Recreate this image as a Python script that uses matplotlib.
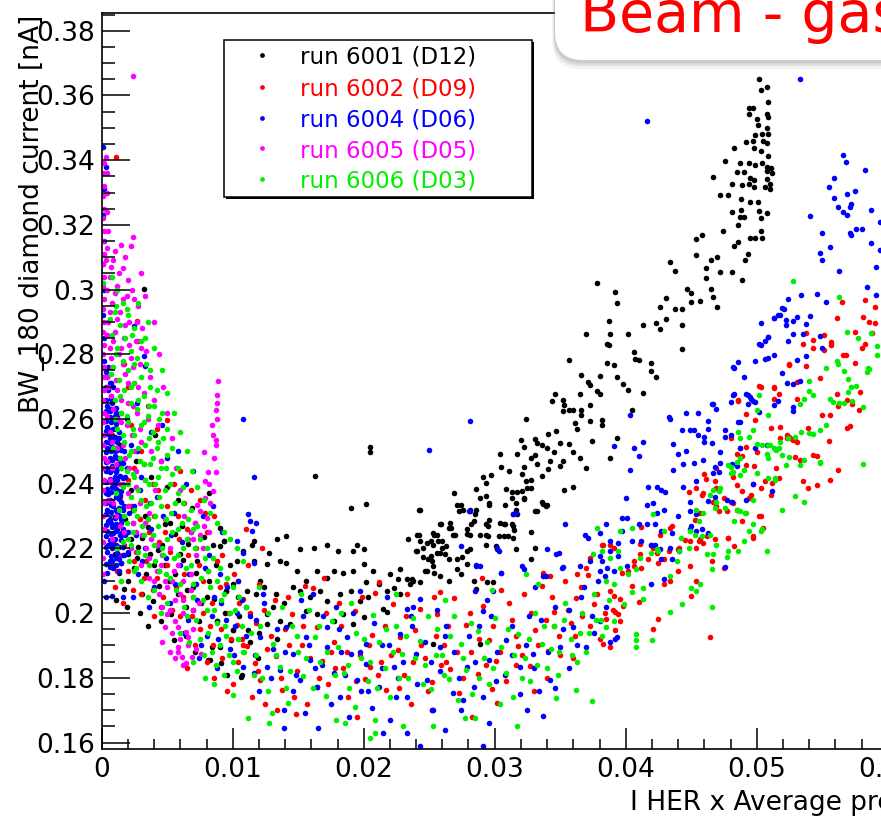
import numpy as np
import matplotlib.pyplot as plt
from matplotlib.patches import FancyBboxPatch, Rectangle
from matplotlib.lines import Line2D
from matplotlib.ticker import MultipleLocator, FuncFormatter

plt.rcParams['font.family'] = 'DejaVu Sans'

# ---- run 6001 (D12), black ----
black_origin = [
    (0.0032,0.3003),(0.0041,0.2550),(0.0026,0.2470),(0.0014,0.2520),(0.0022,0.2380),(0.0038,0.2420),
    (0.0050,0.2390),(0.0058,0.2350),(0.0082,0.2370),(0.0069,0.2325),(0.0024,0.2320),(0.0018,0.2290),
    (0.0012,0.2260),(0.0035,0.2265),(0.0048,0.2275),(0.0090,0.2263),(0.0056,0.2245),(0.0078,0.2235),
    (0.0015,0.2240),(0.0031,0.2233),(0.0046,0.2212),(0.0066,0.2215),(0.0008,0.2210),(0.0028,0.2205),
    (0.0090,0.2207),(0.0043,0.2195),(0.0010,0.2182),(0.0020,0.2182),(0.0037,0.2182),(0.0060,0.2182),
    (0.0027,0.2170),(0.0062,0.2165),(0.0015,0.2156),(0.0025,0.2141),(0.0072,0.2125),(0.0013,0.2125),
    (0.0034,0.2120),(0.0020,0.2100),(0.0051,0.2100),(0.0082,0.2100),(0.0044,0.2085),(0.0070,0.2080),
    (0.0017,0.2075),(0.0031,0.2059),(0.0058,0.2060),(0.0086,0.2045),(0.0011,0.2040),(0.0039,0.2039),
    (0.0076,0.2030),(0.0064,0.2020),(0.0029,0.2000),(0.0053,0.1998),(0.0094,0.2000),(0.0045,0.1975),
    (0.0074,0.1977),(0.0064,0.1930),(0.0055,0.1916),(0.0099,0.1916),(0.0084,0.1895),(0.0071,0.1880),
    (0.0081,0.1855),(0.0091,0.1845),(0.0096,0.1810),(0.0107,0.1809),(0.0119,0.1860),(0.0112,0.1947),
    (0.0126,0.1967),(0.0100,0.1947),(0.0088,0.1977),(0.0095,0.2069),(0.0104,0.2050),(0.0085,0.2212),
    (0.0093,0.2223),(0.0115,0.2212),(0.0128,0.2187),(0.0048,0.2150),(0.0056,0.2120),(0.0065,0.2070),
    (0.0073,0.2160),(0.0080,0.2050),(0.0087,0.2150),(0.0098,0.2150),(0.0103,0.2160),(0.0110,0.2020),
    (0.0118,0.2060),(0.0124,0.2080),(0.0133,0.2060),(0.0139,0.2030),(0.0146,0.2080),(0.0105,0.1990),
    (0.0113,0.1910),(0.0120,0.1940),(0.0134,0.1920),(0.0022,0.2230),(0.0033,0.2300),(0.0052,0.2280),
    (0.0040,0.2150),(0.0061,0.2270),(0.0019,0.2020),(0.0035,0.1960),(0.0070,0.2010),
]
black_band = [
    (0.0190,0.2325),(0.0202,0.2337),(0.0242,0.2318),(0.0163,0.2425),(0.0205,0.2514),(0.0205,0.2499),
    (0.0276,0.2320),(0.0281,0.2320),(0.0296,0.2340),(0.0313,0.2356),(0.0316,0.2340),(0.0322,0.2356),
    (0.0331,0.2317),(0.0336,0.2343),(0.0340,0.2333),(0.0258,0.2274),(0.0267,0.2264),(0.0253,0.2248),
    (0.0279,0.2259),(0.0296,0.2289),(0.0307,0.2274),(0.0313,0.2274),(0.0242,0.2243),(0.0248,0.2217),
    (0.0253,0.2212),(0.0260,0.2223),(0.0263,0.2207),(0.0268,0.2243),(0.0240,0.2192),(0.0251,0.2177),
    (0.0258,0.2187),(0.0271,0.2167),(0.0279,0.2192),(0.0293,0.2212),(0.0295,0.2238),(0.0228,0.2136),
    (0.0233,0.2105),(0.0238,0.2100),(0.0243,0.2095),(0.0248,0.2131),(0.0253,0.2146),(0.0258,0.2115),
    (0.0265,0.2100),(0.0271,0.2136),(0.0279,0.2151),(0.0284,0.2100),(0.0294,0.2095),(0.0299,0.2095),
    (0.0286,0.2075),(0.0212,0.2090),(0.0218,0.2069),(0.0223,0.2079),(0.0228,0.2059),(0.0235,0.2090),
    (0.0202,0.2095),(0.0207,0.2131),(0.0192,0.2131),(0.0200,0.2151),(0.0184,0.2125),(0.0177,0.2131),
    (0.0172,0.2110),(0.0164,0.2131),(0.0156,0.2100),(0.0149,0.2131),(0.0141,0.2156),(0.0136,0.2161),
    (0.0151,0.2197),(0.0162,0.2202),(0.0172,0.2212),(0.0180,0.2192),(0.0192,0.2192),(0.0200,0.2197),
    (0.0195,0.2212),(0.0134,0.2228),(0.0141,0.2238),(0.0116,0.2223),(0.0108,0.2192),(0.0116,0.2161),
    (0.0126,0.2151),(0.0121,0.2100),(0.0111,0.2069),(0.0100,0.2090),(0.0151,0.2069),(0.0159,0.2049),
    (0.0167,0.2069),(0.0172,0.2039),(0.0182,0.2059),(0.0190,0.2069),(0.0197,0.2039),(0.0203,0.2049),
    (0.0126,0.1998),(0.0136,0.1977),(0.0131,0.2018),(0.0144,0.1967),(0.0156,0.2008),(0.0164,0.1998),
    (0.0177,0.1977),(0.0184,0.1998),(0.0192,0.1967),(0.0200,0.1987),(0.0215,0.2013),(0.0218,0.2003),
    (0.0253,0.1906),(0.0289,0.1906),(0.0164,0.1773),(0.0106,0.1803),(0.0083,0.1855),(0.0090,0.1895),
    (0.0093,0.2223),(0.0095,0.2069),(0.0088,0.1977),(0.0100,0.1947),
]
black_rise = [
    (0.0502,0.3652),(0.0503,0.3618),(0.0508,0.3626),(0.0509,0.3581),(0.0494,0.3562),(0.0497,0.3562),
    (0.0494,0.3542),(0.0508,0.3544),(0.0500,0.3526),(0.0509,0.3532),(0.0501,0.3510),(0.0508,0.3501),
    (0.0504,0.3480),(0.0499,0.3478),(0.0509,0.3480),(0.0492,0.3456),(0.0497,0.3458),(0.0505,0.3460),
    (0.0508,0.3452),(0.0483,0.3437),(0.0498,0.3437),(0.0503,0.3428),(0.0509,0.3413),(0.0476,0.3398),
    (0.0487,0.3392),(0.0494,0.3390),(0.0499,0.3385),(0.0504,0.3390),(0.0508,0.3380),(0.0511,0.3377),
    (0.0485,0.3365),(0.0490,0.3362),(0.0508,0.3366),(0.0512,0.3360),(0.0467,0.3348),(0.0495,0.3345),
    (0.0498,0.3338),(0.0508,0.3342),(0.0494,0.3327),(0.0510,0.3325),(0.0481,0.3327),(0.0489,0.3322),
    (0.0498,0.3318),(0.0506,0.3317),(0.0510,0.3312),(0.0472,0.3291),(0.0478,0.3293),(0.0488,0.3280),
    (0.0495,0.3272),(0.0501,0.3270),(0.0488,0.3245),(0.0481,0.3241),(0.0502,0.3243),(0.0508,0.3238),
    (0.0487,0.3223),(0.0490,0.3225),(0.0503,0.3222),(0.0486,0.3199),(0.0474,0.3180),(0.0503,0.3180),
    (0.0495,0.3158),(0.0499,0.3160),(0.0504,0.3158),(0.0454,0.3155),(0.0458,0.3170),(0.0486,0.3146),
    (0.0483,0.3135),(0.0493,0.3110),(0.0491,0.3090),(0.0454,0.3106),(0.0465,0.3090),(0.0470,0.3102),
    (0.0434,0.3085),(0.0438,0.3058),(0.0461,0.3068),(0.0461,0.3036),(0.0472,0.3054),(0.0481,0.3054),
    (0.0489,0.3029),(0.0378,0.3020),(0.0392,0.2993),(0.0393,0.2959),(0.0447,0.3003),(0.0450,0.2990),
    (0.0465,0.3003),(0.0431,0.2974),(0.0426,0.2947),(0.0438,0.2941),(0.0443,0.2941),(0.0450,0.2961),
    (0.0457,0.2964),(0.0467,0.2976),(0.0470,0.2946),(0.0387,0.2903),(0.0413,0.2892),(0.0423,0.2898),
    (0.0426,0.2877),(0.0431,0.2908),(0.0443,0.2892),(0.0370,0.2862),(0.0388,0.2862),(0.0386,0.2831),
    (0.0387,0.2828),(0.0402,0.2864),(0.0443,0.2816),(0.0406,0.2806),(0.0407,0.2787),(0.0410,0.2782),
    (0.0419,0.2772),(0.0419,0.2749),(0.0423,0.2731),(0.0357,0.2783),(0.0386,0.2772),(0.0391,0.2767),
    (0.0366,0.2737),(0.0380,0.2734),(0.0393,0.2729),(0.0371,0.2713),(0.0373,0.2705),(0.0378,0.2688),
    (0.0380,0.2678),(0.0398,0.2708),(0.0402,0.2690),(0.0413,0.2680),(0.0346,0.2678),(0.0344,0.2657),
    (0.0352,0.2659),(0.0353,0.2642),(0.0365,0.2676),(0.0357,0.2627),(0.0360,0.2627),(0.0352,0.2625),
    (0.0373,0.2642),(0.0366,0.2627),(0.0366,0.2613),(0.0382,0.2598),(0.0382,0.2583),(0.0361,0.2588),
    (0.0363,0.2570),(0.0373,0.2594),(0.0324,0.2601),(0.0341,0.2553),(0.0347,0.2562),(0.0393,0.2542),
    (0.0405,0.2627),(0.0320,0.2535),(0.0322,0.2512),(0.0331,0.2537),(0.0332,0.2526),(0.0336,0.2519),
    (0.0350,0.2526),(0.0357,0.2523),(0.0374,0.2532),(0.0340,0.2509),(0.0345,0.2499),(0.0360,0.2499),
    (0.0365,0.2480),(0.0388,0.2480),(0.0304,0.2492),(0.0317,0.2492),(0.0322,0.2453),(0.0331,0.2489),
    (0.0328,0.2478),(0.0332,0.2461),(0.0342,0.2471),(0.0352,0.2471),(0.0350,0.2455),(0.0305,0.2453),
    (0.0311,0.2440),(0.0370,0.2448),(0.0291,0.2422),(0.0297,0.2427),(0.0321,0.2429),(0.0324,0.2407),
    (0.0328,0.2412),(0.0336,0.2424),(0.0341,0.2446),(0.0293,0.2402),(0.0286,0.2384),(0.0309,0.2384),
    (0.0313,0.2374),(0.0317,0.2374),(0.0321,0.2376),(0.0325,0.2388),(0.0328,0.2386),(0.0353,0.2381),
    (0.0360,0.2391),(0.0269,0.2370),(0.0289,0.2356),(0.0293,0.2361),(0.0322,0.2353),(0.0271,0.2333),
    (0.0274,0.2335),(0.0273,0.2317),(0.0286,0.2320),(0.0285,0.2305),(0.0284,0.2284),(0.0282,0.2274),
    (0.0296,0.2335),(0.0293,0.2276),(0.0295,0.2269),(0.0308,0.2335),(0.0316,0.2320),(0.0317,0.2305),
    (0.0314,0.2307),(0.0332,0.2315),(0.0337,0.2337),(0.0339,0.2332),(0.0243,0.2320),(0.0259,0.2274),
    (0.0266,0.2279),(0.0265,0.2264),(0.0254,0.2243),(0.0256,0.2243),(0.0270,0.2243),(0.0279,0.2245),
    (0.0281,0.2243),(0.0289,0.2243),(0.0293,0.2243),(0.0303,0.2238),(0.0307,0.2238),(0.0310,0.2238),
    (0.0314,0.2233),(0.0304,0.2279),(0.0308,0.2274),(0.0314,0.2269),(0.0315,0.2256),(0.0328,0.2251),
    (0.0234,0.2230),(0.0241,0.2243),(0.0243,0.2223),(0.0245,0.2202),(0.0241,0.2192),(0.0251,0.2223),
    (0.0257,0.2223),(0.0260,0.2202),(0.0256,0.2187),(0.0245,0.2172),(0.0249,0.2167),(0.0252,0.2161),
    (0.0262,0.2182),(0.0265,0.2167),(0.0275,0.2172),(0.0281,0.2197),(0.0301,0.2207),(0.0302,0.2197),
    (0.0316,0.2197),(0.0331,0.2202),(0.0328,0.2168),(0.0247,0.2130),(0.0254,0.2125),(0.0274,0.2121),
    (0.0220,0.2121),(0.0226,0.2105),(0.0237,0.2105),
]

# ---- run 6002 (D09), red ----
red_origin = [
    (0.0011,0.3409),(0.0027,0.2903),(0.0050,0.2596),(0.0042,0.2570),(0.0035,0.2640),(0.0020,0.2700),
    (0.0015,0.2620),(0.0030,0.2500),(0.0045,0.2470),(0.0060,0.2440),(0.0055,0.2400),(0.0068,0.2380),
    (0.0075,0.2350),(0.0012,0.2300),(0.0018,0.2250),(0.0024,0.2280),(0.0033,0.2350),(0.0040,0.2300),
    (0.0048,0.2250),(0.0058,0.2300),(0.0065,0.2260),(0.0072,0.2200),(0.0080,0.2250),(0.0086,0.2300),
    (0.0092,0.2180),(0.0013,0.2180),(0.0020,0.2130),(0.0026,0.2190),(0.0034,0.2160),(0.0042,0.2110),
    (0.0050,0.2150),(0.0057,0.2080),(0.0063,0.2120),(0.0070,0.2050),(0.0077,0.2100),(0.0084,0.2030),
    (0.0090,0.2080),(0.0097,0.2000),(0.0010,0.2080),(0.0016,0.2030),(0.0030,0.2060),(0.0045,0.2020),
    (0.0060,0.1990),(0.0075,0.1950),(0.0085,0.1900),(0.0104,0.2100),(0.0110,0.2260),(0.0122,0.2200),
    (0.0039,0.2400),(0.0025,0.2450),(0.0008,0.2550),(0.0012,0.2480),(0.0022,0.2580),(0.0017,0.2770),
    (0.0028,0.2840),(0.0009,0.2220),(0.0105,0.2030),(0.0118,0.1970),(0.0080,0.1850),(0.0100,0.1780),
    (0.0065,0.1830),(0.0014,0.2360),(0.0022,0.2330),(0.0029,0.2290),(0.0036,0.2250),(0.0044,0.2220),
    (0.0052,0.2190),(0.0059,0.2230),(0.0066,0.2180),(0.0074,0.2150),(0.0081,0.2130),(0.0088,0.2160),
    (0.0095,0.2090),(0.0101,0.2120),(0.0017,0.2210),(0.0025,0.2160),(0.0032,0.2110),(0.0039,0.2070),
    (0.0047,0.2050),(0.0054,0.2010),(0.0062,0.2050),(0.0069,0.1990),(0.0077,0.2000),(0.0083,0.1960),
    (0.0091,0.1950),(0.0099,0.1920),(0.0108,0.1900),(0.0112,0.2150),(0.0020,0.2410),(0.0032,0.2460),
    (0.0043,0.2380),(0.0050,0.2330),(0.0063,0.2340),(0.0071,0.2280),(0.0079,0.2310),(0.0024,0.2070),
    (0.0012,0.2130),(0.0040,0.1990),(0.0071,0.1900),(0.0092,0.1860),(0.0104,0.1850),(0.0086,0.1800),
    (0.0096,0.1760),
]
red_band = [
    (0.0103,0.1962),(0.0108,0.2045),(0.0111,0.1898),(0.0117,0.1847),(0.0121,0.1793),(0.0124,0.2010),
    (0.0129,0.1928),(0.0133,0.1868),(0.0138,0.1762),(0.0142,0.2051),(0.0145,0.1997),(0.0149,0.1821),
    (0.0153,0.1902),(0.0157,0.1718),(0.0161,0.2078),(0.0164,0.1958),(0.0168,0.1853),(0.0173,0.1781),
    (0.0177,0.1912),(0.0181,0.2032),(0.0184,0.1829),(0.0188,0.1742),(0.0193,0.2008),(0.0197,0.1871),
    (0.0201,0.1795),(0.0206,0.1933),(0.0209,0.2062),(0.0213,0.1848),(0.0217,0.1763),(0.0222,0.2027),
    (0.0226,0.1887),(0.0231,0.1808),(0.0236,0.1718),(0.0239,0.1947),(0.0243,0.2013),(0.0247,0.1861),
    (0.0252,0.1788),(0.0256,0.1998),(0.0261,0.1903),(0.0266,0.1827),(0.0269,0.2048),(0.0273,0.1752),
    (0.0278,0.1962),(0.0282,0.1881),(0.0287,0.1812),(0.0291,0.2023),(0.0296,0.1917),(0.0301,0.1852),
    (0.0305,0.2070),(0.0309,0.1789),(0.0313,0.1978),(0.0318,0.1898),(0.0322,0.2058),(0.0327,0.1838),
    (0.0331,0.1948),(0.0336,0.2083),(0.0341,0.1882),(0.0345,0.2002),(0.0349,0.1928),(0.0354,0.2098),
    (0.0358,0.1968),(0.0362,0.2046),(0.0367,0.1992),(0.0371,0.2118),(0.0376,0.2028),(0.0115,0.1740),
    (0.0125,0.1718),(0.0134,0.1700),(0.0148,0.1688),(0.0195,0.1680),(0.0252,0.1700),(0.0283,0.1680),
    (0.0302,0.1722),(0.0330,0.1758),(0.0120,0.2090),(0.0155,0.2085),(0.0170,0.2110),(0.0212,0.2095),
    (0.0233,0.2060),(0.0258,0.2065),(0.0290,0.2110),(0.0140,0.1950),(0.0175,0.1880),(0.0205,0.1835),
    (0.0228,0.1925),(0.0263,0.1850),(0.0298,0.1765),(0.0340,0.1800),(0.0360,0.1860),(0.0380,0.1920),
    (0.0390,0.2010),(0.0255,0.1930),(0.0316,0.1840),(0.0345,0.1960),
    (0.0107,0.1920),(0.0113,0.2000),(0.0119,0.1820),(0.0126,0.1890),(0.0132,0.2040),(0.0137,0.1800),
    (0.0143,0.1900),(0.0147,0.1740),(0.0154,0.1960),(0.0159,0.1860),(0.0166,0.1800),(0.0171,0.2000),
    (0.0178,0.1830),(0.0183,0.1960),(0.0187,0.1880),(0.0194,0.1790),(0.0199,0.2050),(0.0204,0.1900),
    (0.0211,0.1810),(0.0216,0.1960),(0.0221,0.1870),(0.0227,0.1770),(0.0232,0.1990),(0.0238,0.1850),
    (0.0244,0.1900),(0.0249,0.1760),(0.0254,0.2050),(0.0259,0.1840),(0.0264,0.1960),(0.0271,0.1880),
    (0.0276,0.1800),(0.0281,0.2000),(0.0288,0.1920),(0.0293,0.1840),(0.0299,0.1960),(0.0304,0.1880),
    (0.0311,0.2030),(0.0316,0.1930),(0.0321,0.1870),(0.0328,0.2000),(0.0333,0.1900),(0.0339,0.1980),
    (0.0344,0.2050),(0.0350,0.1870),(0.0356,0.2010),(0.0361,0.1930),(0.0366,0.2080),(0.0373,0.1960),
    (0.0378,0.2060),(0.0384,0.2000),
]
red_rise = [
    (0.0583,0.2969),(0.0590,0.2947),(0.0565,0.2961),(0.0561,0.2911),(0.0581,0.2915),(0.0586,0.2901),
    (0.0590,0.2898),(0.0575,0.2869),(0.0588,0.2867),(0.0538,0.2867),(0.0543,0.2843),(0.0551,0.2860),
    (0.0557,0.2839),(0.0557,0.2828),(0.0535,0.2831),(0.0543,0.2821),(0.0551,0.2813),(0.0583,0.2833),
    (0.0580,0.2818),(0.0566,0.2798),(0.0568,0.2798),(0.0575,0.2773),(0.0525,0.2767),(0.0538,0.2765),
    (0.0548,0.2728),(0.0503,0.2700),(0.0513,0.2695),(0.0517,0.2676),(0.0513,0.2662),(0.0486,0.2659),
    (0.0531,0.2662),(0.0561,0.2676),(0.0562,0.2640),(0.0569,0.2660),(0.0573,0.2645),(0.0578,0.2627),
    (0.0579,0.2683),(0.0550,0.2611),(0.0556,0.2611),(0.0499,0.2596),(0.0511,0.2572),(0.0518,0.2575),
    (0.0523,0.2542),(0.0527,0.2539),(0.0529,0.2535),(0.0539,0.2572),(0.0529,0.2483),(0.0533,0.2473),
    (0.0543,0.2489),(0.0546,0.2487),(0.0569,0.2572),(0.0571,0.2578),(0.0555,0.2532),(0.0562,0.2443),
    (0.0556,0.2412),(0.0485,0.2493),(0.0489,0.2487),(0.0492,0.2458),(0.0498,0.2456),(0.0515,0.2450),
    (0.0517,0.2419),(0.0512,0.2402),(0.0506,0.2409),(0.0535,0.2409),(0.0539,0.2386),(0.0546,0.2397),
    (0.0460,0.2430),(0.0461,0.2415),(0.0468,0.2409),(0.0469,0.2386),(0.0485,0.2397),(0.0489,0.2376),
    (0.0496,0.2366),(0.0503,0.2386),(0.0448,0.2374),(0.0454,0.2386),(0.0459,0.2371),(0.0469,0.2330),
    (0.0471,0.2317),(0.0477,0.2315),(0.0480,0.2345),(0.0489,0.2286),(0.0503,0.2301),(0.0511,0.2366),
    (0.0435,0.2268),(0.0445,0.2225),(0.0454,0.2202),(0.0457,0.2228),(0.0462,0.2238),(0.0468,0.2228),
    (0.0478,0.2233),(0.0483,0.2206),(0.0497,0.2238),(0.0497,0.2231),(0.0412,0.2267),(0.0421,0.2202),
    (0.0411,0.2214),(0.0417,0.2166),(0.0425,0.2156),(0.0412,0.2141),(0.0406,0.2146),(0.0402,0.2129),
    (0.0388,0.2212),(0.0383,0.2212),(0.0449,0.2146),(0.0454,0.2100),(0.0450,0.2054),(0.0440,0.2131),
    (0.0434,0.2100),(0.0429,0.2090),(0.0425,0.1983),(0.0421,0.1952),(0.0464,0.1926),(0.0433,0.2192),
    (0.0440,0.2197),(0.0388,0.2069),(0.0391,0.2054),(0.0396,0.2044),(0.0398,0.2023),(0.0405,0.2085),
    (0.0410,0.2034),(0.0392,0.2003),(0.0394,0.1998),(0.0396,0.1977),(0.0392,0.1947),(0.0388,0.1895),
    (0.0383,0.1906),(0.0385,0.1983),(0.0502,0.2703),(0.0513,0.2698),(0.0525,0.2770),(0.0531,0.2713),
    (0.0525,0.2545),(0.0531,0.2529),(0.0486,0.2657),(0.0492,0.2616),(0.0480,0.2540),(0.0487,0.2509),
    (0.0492,0.2514),(0.0500,0.2499),(0.0518,0.2540),(0.0523,0.2550),(0.0528,0.2535),(0.0469,0.2448),
    (0.0482,0.2422),(0.0458,0.2366),(0.0467,0.2345),(0.0475,0.2356),(0.0482,0.2340),(0.0485,0.2320),
    (0.0502,0.2299),(0.0494,0.2356),(0.0434,0.2263),(0.0426,0.2243),(0.0419,0.2212),(0.0411,0.2182),
    (0.0406,0.2161),(0.0397,0.2125),(0.0391,0.2202),(0.0382,0.2212),(0.0373,0.2171),(0.0370,0.2141),
    (0.0363,0.2121),(0.0441,0.2202),(0.0449,0.2223),(0.0456,0.2223),(0.0459,0.2217),(0.0466,0.2161),
    (0.0475,0.2141),(0.0478,0.2233),(0.0505,0.2263),(0.0457,0.2310),(0.0453,0.2289),(0.0424,0.2187),
    (0.0429,0.2167),(0.0337,0.2125),(0.0342,0.2115),
]

# ---- run 6004 (D06), blue ----
blue_origin = [
    (0.0004,0.2125),(0.0009,0.2140),(0.0013,0.2130),(0.0006,0.2160),(0.0011,0.2170),(0.0015,0.2155),
    (0.0004,0.2190),(0.0008,0.2200),(0.0012,0.2185),(0.0016,0.2205),(0.0006,0.2225),(0.0010,0.2230),
    (0.0014,0.2240),(0.0004,0.2255),(0.0008,0.2265),(0.0012,0.2270),(0.0016,0.2260),(0.0006,0.2290),
    (0.0010,0.2295),(0.0014,0.2300),(0.0004,0.2320),(0.0009,0.2330),(0.0013,0.2325),(0.0006,0.2350),
    (0.0011,0.2360),(0.0015,0.2345),(0.0004,0.2385),(0.0008,0.2390),(0.0012,0.2380),(0.0016,0.2395),
    (0.0006,0.2415),(0.0010,0.2420),(0.0014,0.2425),(0.0004,0.2450),(0.0008,0.2455),(0.0012,0.2445),
    (0.0006,0.2480),(0.0010,0.2485),(0.0014,0.2475),(0.0004,0.2510),(0.0008,0.2515),(0.0012,0.2505),
    (0.0006,0.2540),(0.0010,0.2545),(0.0004,0.2575),(0.0009,0.2570),(0.0013,0.2560),(0.0006,0.2605),
    (0.0010,0.2610),(0.0004,0.2640),(0.0008,0.2650),(0.0005,0.2690),(0.0009,0.2700),(0.0004,0.2730),
    (0.0006,0.2142),(0.0011,0.2150),(0.0007,0.2178),(0.0013,0.2205),(0.0005,0.2212),(0.0009,0.2248),
    (0.0015,0.2280),(0.0005,0.2285),(0.0012,0.2310),(0.0007,0.2335),(0.0014,0.2365),(0.0005,0.2368),
    (0.0010,0.2400),(0.0006,0.2435),(0.0013,0.2460),(0.0005,0.2470),(0.0010,0.2500),(0.0006,0.2525),
    (0.0012,0.2530),(0.0005,0.2555),(0.0011,0.2585),(0.0007,0.2590),(0.0006,0.2625),(0.0011,0.2635),
    (0.0007,0.2670),(0.0006,0.2710),(0.0002,0.2780),(0.0002,0.2850),(0.0001,0.2920),(0.0002,0.3000),
    (0.0001,0.3080),(0.0002,0.3150),(0.0001,0.3230),(0.0002,0.3310),(0.0003,0.3380),(0.0001,0.3440),
    (0.0002,0.2100),(0.0003,0.2050),(0.0017,0.2180),(0.0018,0.2240),(0.0017,0.2330),(0.0018,0.2420),
    (0.0017,0.2500),
    (0.0003,0.2152),(0.0008,0.2162),(0.0013,0.2168),(0.0016,0.2180),(0.0003,0.2205),(0.0007,0.2218),
    (0.0011,0.2212),(0.0015,0.2225),(0.0003,0.2238),(0.0007,0.2245),(0.0011,0.2255),(0.0015,0.2248),
    (0.0003,0.2272),(0.0007,0.2280),(0.0011,0.2275),(0.0015,0.2292),(0.0003,0.2305),(0.0007,0.2312),
    (0.0011,0.2320),(0.0016,0.2318),(0.0003,0.2340),(0.0008,0.2348),(0.0013,0.2352),(0.0003,0.2372),
    (0.0007,0.2375),(0.0011,0.2385),(0.0015,0.2378),(0.0003,0.2405),(0.0008,0.2408),(0.0012,0.2412),
    (0.0016,0.2418),(0.0003,0.2438),(0.0007,0.2442),(0.0011,0.2435),(0.0015,0.2450),(0.0003,0.2468),
    (0.0008,0.2472),(0.0012,0.2478),(0.0016,0.2465),(0.0003,0.2498),(0.0007,0.2502),(0.0011,0.2510),
    (0.0015,0.2505),(0.0003,0.2530),(0.0008,0.2535),(0.0013,0.2540),(0.0003,0.2562),(0.0007,0.2565),
    (0.0011,0.2570),(0.0003,0.2595),(0.0008,0.2598),(0.0012,0.2605),(0.0003,0.2625),(0.0007,0.2630),
    (0.0011,0.2620),(0.0003,0.2660),(0.0007,0.2662),(0.0003,0.2700),(0.0007,0.2712),(0.0003,0.2745),
    (0.0005,0.2760),
]
blue_near = [
    (0.0108,0.2601),(0.0116,0.2422),(0.0112,0.2305),(0.0113,0.2284),(0.0118,0.2279),(0.0115,0.2253),
    (0.0103,0.2223),(0.0108,0.2187),(0.0116,0.2156),(0.0032,0.2795),(0.0033,0.2765),(0.0025,0.2887),
    (0.0008,0.2054),(0.0036,0.2018),(0.0016,0.2049),(0.0020,0.2250),(0.0025,0.2330),(0.0030,0.2420),
    (0.0022,0.2520),(0.0035,0.2290),(0.0042,0.2360),(0.0045,0.2200),(0.0050,0.2480),(0.0055,0.2310),
    (0.0060,0.2150),(0.0064,0.2400),(0.0068,0.2250),(0.0072,0.2090),(0.0077,0.2300),(0.0082,0.2180),
    (0.0086,0.2050),(0.0090,0.2120),(0.0095,0.1980),(0.0028,0.2120),(0.0040,0.2080),(0.0052,0.2030),
    (0.0066,0.1980),(0.0080,0.1930),(0.0098,0.1890),(0.0019,0.2600),(0.0027,0.2650),(0.0038,0.2560),
    (0.0046,0.2580),(0.0058,0.2500),(0.0070,0.2440),(0.0085,0.2330),(0.0092,0.2250),(0.0104,0.2100),
    (0.0074,0.1860),(0.0088,0.1830),
    (0.0020,0.2190),(0.0026,0.2240),(0.0033,0.2200),(0.0038,0.2260),(0.0044,0.2130),(0.0049,0.2170),
    (0.0056,0.2090),(0.0061,0.2220),(0.0067,0.2120),(0.0073,0.2040),(0.0079,0.2140),(0.0084,0.1990),
    (0.0091,0.2030),(0.0096,0.2080),(0.0102,0.1960),(0.0107,0.2040),(0.0113,0.1990),(0.0024,0.2050),
    (0.0031,0.2160),(0.0047,0.2300),(0.0053,0.2240),(0.0063,0.1940),(0.0076,0.1900),(0.0089,0.1920),
    (0.0101,0.1870),(0.0021,0.2310),(0.0029,0.2380),(0.0037,0.2340),(0.0019,0.2450),(0.0027,0.2500),
]
blue_band = [
    (0.0197,0.2069),(0.0233,0.2013),(0.0238,0.2018),(0.0243,0.2044),(0.0281,0.2317),(0.0314,0.2307),
    (0.0302,0.2202),(0.0303,0.2192),(0.0286,0.2146),(0.0285,0.2069),(0.0291,0.2008),(0.0299,0.2069),
    (0.0305,0.2125),(0.0321,0.2146),(0.0108,0.1835),(0.0116,0.1814),(0.0126,0.1835),(0.0136,0.1824),
    (0.0139,0.1701),(0.0146,0.1875),(0.0151,0.1793),(0.0159,0.1855),(0.0164,0.1773),(0.0165,0.1645),
    (0.0172,0.1895),(0.0177,0.1814),(0.0182,0.1742),(0.0190,0.1875),(0.0195,0.1793),(0.0202,0.1844),
    (0.0206,0.1706),(0.0212,0.1773),(0.0220,0.1671),(0.0223,0.1834),(0.0233,0.1742),(0.0233,0.1630),
    (0.0240,0.1875),(0.0243,0.1589),(0.0248,0.1793),(0.0253,0.1701),(0.0258,0.1895),(0.0268,0.1752),
    (0.0276,0.1732),(0.0279,0.1834),(0.0284,0.1773),(0.0291,0.1589),(0.0296,0.1855),(0.0309,0.1916),
    (0.0319,0.1834),(0.0329,0.1875),(0.0337,0.1681),(0.0342,0.1793),(0.0350,0.1895),(0.0360,0.1957),
    (0.0370,0.1895),(0.0380,0.1977),(0.0393,0.1926),(0.0385,0.2018),(0.0121,0.1926),(0.0141,0.1957),
    (0.0156,0.1926),(0.0172,0.1957),(0.0187,0.1926),(0.0202,0.1906),(0.0228,0.1936),(0.0139,0.1645),
    (0.0118,0.1980),(0.0131,0.1890),(0.0148,0.1810),(0.0154,0.1990),(0.0168,0.1840),(0.0183,0.1880),
    (0.0198,0.1760),(0.0214,0.1900),(0.0226,0.1800),(0.0237,0.1960),(0.0251,0.1850),(0.0262,0.1930),
    (0.0273,0.1800),(0.0288,0.1960),(0.0301,0.1790),(0.0313,0.1870),(0.0326,0.1990),(0.0334,0.1760),
    (0.0346,0.2020),(0.0357,0.1830),(0.0366,0.2050),(0.0376,0.1940),(0.0124,0.2030),(0.0161,0.2060),
    (0.0179,0.2020),(0.0218,0.2050),(0.0256,0.2010),(0.0294,0.2040),(0.0331,0.2080),
    (0.0103,0.2000),(0.0110,0.1930),(0.0117,0.1870),(0.0123,0.2060),(0.0129,0.1800),(0.0134,0.1950),
    (0.0140,0.1880),(0.0146,0.1760),(0.0152,0.2040),(0.0158,0.1900),(0.0163,0.1830),(0.0169,0.1990),
    (0.0175,0.1720),(0.0181,0.1950),(0.0186,0.1810),(0.0192,0.2000),(0.0197,0.1880),(0.0203,0.1760),
    (0.0208,0.1970),(0.0214,0.1830),(0.0219,0.1900),(0.0225,0.1740),(0.0230,0.1850),(0.0236,0.1990),
    (0.0241,0.1780),(0.0247,0.1910),(0.0252,0.1700),(0.0258,0.1820),(0.0263,0.1960),(0.0269,0.1880),
    (0.0274,0.1700),(0.0280,0.1930),(0.0285,0.1850),(0.0291,0.1740),(0.0297,0.1990),(0.0302,0.1880),
    (0.0308,0.1810),(0.0313,0.1960),(0.0319,0.1750),(0.0324,0.1900),(0.0330,0.1830),(0.0335,0.1980),
    (0.0341,0.1880),(0.0346,0.1770),(0.0352,0.1950),(0.0357,0.2010),(0.0363,0.1900),(0.0368,0.2080),
    (0.0374,0.1990),(0.0379,0.2100),(0.0120,0.1760),(0.0155,0.1690),(0.0189,0.1680),(0.0215,0.1630),
    (0.0262,0.1640),(0.0296,0.1660),(0.0325,0.1700),
]
blue_rise = [
    (0.0566,0.3416),(0.0568,0.3394),(0.0583,0.3370),(0.0559,0.3345),(0.0555,0.3317),(0.0559,0.3284),
    (0.0569,0.3296),(0.0575,0.3305),(0.0562,0.3255),(0.0566,0.3240),(0.0569,0.3230),(0.0571,0.3255),
    (0.0572,0.3266),(0.0587,0.3247),(0.0594,0.3210),(0.0541,0.3227),(0.0576,0.3186),(0.0580,0.3186),
    (0.0571,0.3174),(0.0572,0.3169),(0.0550,0.3174),(0.0556,0.3133),(0.0548,0.3112),(0.0550,0.3092),
    (0.0587,0.3143),(0.0594,0.3122),(0.0591,0.3071),(0.0563,0.3056),(0.0584,0.3008),(0.0591,0.2982),
    (0.0524,0.2972),(0.0534,0.2982),(0.0546,0.2987),(0.0553,0.2962),(0.0519,0.2944),(0.0516,0.2923),
    (0.0513,0.2913),(0.0522,0.2906),(0.0522,0.2892),(0.0528,0.2903),(0.0531,0.2916),(0.0538,0.2895),
    (0.0541,0.2918),(0.0528,0.2862),(0.0524,0.2841),(0.0535,0.2862),(0.0509,0.2852),(0.0506,0.2841),
    (0.0503,0.2828),(0.0548,0.2856),(0.0550,0.2821),(0.0513,0.2797),(0.0509,0.2788),(0.0506,0.2785),
    (0.0499,0.2778),(0.0538,0.2795),(0.0531,0.2783),(0.0486,0.2775),(0.0483,0.2757),(0.0490,0.2731),
    (0.0482,0.2760),(0.0519,0.2741),(0.0523,0.2711),(0.0528,0.2708),(0.0533,0.2716),(0.0483,0.2676),
    (0.0493,0.2675),(0.0496,0.2662),(0.0499,0.2654),(0.0493,0.2645),(0.0502,0.2621),(0.0513,0.2642),
    (0.0516,0.2656),(0.0528,0.2637),(0.0528,0.2624),(0.0466,0.2645),(0.0469,0.2630),(0.0446,0.2619),
    (0.0455,0.2619),(0.0433,0.2606),(0.0434,0.2601),(0.0403,0.2611),(0.0463,0.2593),(0.0486,0.2591),
    (0.0443,0.2567),(0.0449,0.2565),(0.0452,0.2567),(0.0463,0.2570),(0.0455,0.2552),(0.0460,0.2545),
    (0.0460,0.2529),(0.0466,0.2527),(0.0476,0.2567),(0.0476,0.2545),(0.0480,0.2552),(0.0436,0.2524),
    (0.0446,0.2502),(0.0440,0.2492),(0.0444,0.2461),(0.0436,0.2443),(0.0391,0.2517),(0.0406,0.2511),
    (0.0410,0.2487),(0.0413,0.2529),(0.0403,0.2443),(0.0452,0.2463),(0.0459,0.2473),(0.0472,0.2499),
    (0.0487,0.2509),(0.0499,0.2509),(0.0508,0.2519),(0.0468,0.2453),(0.0467,0.2432),(0.0471,0.2437),
    (0.0472,0.2463),(0.0454,0.2407),(0.0468,0.2359),(0.0481,0.2460),(0.0485,0.2455),(0.0497,0.2399),
    (0.0512,0.2376),(0.0417,0.2389),(0.0424,0.2391),(0.0427,0.2381),(0.0430,0.2373),(0.0400,0.2356),
    (0.0416,0.2335),(0.0421,0.2340),(0.0429,0.2320),(0.0424,0.2309),(0.0444,0.2391),(0.0449,0.2345),
    (0.0449,0.2315),(0.0454,0.2305),(0.0463,0.2348),(0.0477,0.2349),(0.0481,0.2345),(0.0492,0.2351),
    (0.0497,0.2400),(0.0397,0.2294),(0.0401,0.2294),(0.0385,0.2276),(0.0410,0.2276),(0.0416,0.2276),
    (0.0422,0.2274),(0.0427,0.2253),(0.0435,0.2248),(0.0440,0.2299),(0.0449,0.2259),(0.0454,0.2253),
    (0.0458,0.2259),(0.0380,0.2248),(0.0380,0.2177),(0.0388,0.2192),(0.0394,0.2177),(0.0401,0.2146),
    (0.0419,0.2212),(0.0435,0.2166),(0.0427,0.2166),(0.0429,0.2105),(0.0419,0.2090),(0.0380,0.2131),
    (0.0384,0.2115),(0.0392,0.1921),(0.0388,0.1911),(0.0476,0.2143),(0.0416,0.3521),(0.0533,0.3650),
    (0.0502,0.2831),(0.0509,0.2852),(0.0503,0.2898),(0.0513,0.2913),(0.0518,0.2923),(0.0521,0.2941),
    (0.0467,0.2647),(0.0480,0.2652),(0.0492,0.2678),(0.0495,0.2667),(0.0497,0.2657),(0.0482,0.2675),
    (0.0487,0.2591),(0.0354,0.2276),(0.0369,0.2243),(0.0371,0.2233),(0.0388,0.2223),(0.0394,0.2217),
    (0.0397,0.2253),(0.0405,0.2223),(0.0412,0.2223),(0.0422,0.2212),(0.0426,0.2197),(0.0434,0.2202),
    (0.0441,0.2192),(0.0450,0.2269),(0.0463,0.2248),(0.0340,0.2197),(0.0347,0.2182),(0.0351,0.2141),
    (0.0365,0.2146),(0.0373,0.2161),(0.0382,0.2161),(0.0386,0.2141),(0.0391,0.2131),(0.0274,0.2207),
    (0.0280,0.2317),(0.0281,0.2593),(0.0250,0.2504),(0.0305,0.2125),(0.0316,0.2310),(0.0286,0.2149),
    (0.0289,0.2146),(0.0322,0.2136),(0.0337,0.2115),(0.0339,0.2115),(0.0349,0.2187),(0.0352,0.2143),
]

# ---- run 6005 (D05), magenta ----
magenta_line = [
    (0.0001,0.2120),(0.0001,0.2170),(0.0001,0.2220),(0.0002,0.2260),(0.0001,0.2300),(0.0002,0.2340),
    (0.0001,0.2380),(0.0002,0.2410),(0.0001,0.2450),(0.0002,0.2480),(0.0001,0.2520),(0.0002,0.2550),
    (0.0001,0.2590),(0.0002,0.2620),(0.0001,0.2660),(0.0002,0.2690),(0.0001,0.2730),(0.0002,0.2760),
    (0.0001,0.2800),(0.0002,0.2830),(0.0001,0.2870),(0.0002,0.2900),(0.0001,0.2940),(0.0002,0.2970),
    (0.0001,0.3010),(0.0002,0.3040),(0.0001,0.3080),(0.0002,0.3110),(0.0001,0.3150),(0.0002,0.3180),
    (0.0001,0.3220),(0.0002,0.3250),(0.0001,0.3290),(0.0002,0.3320),(0.0001,0.3360),(0.0002,0.3390),
    (0.0003,0.3410),(0.0004,0.3360),(0.0004,0.3300),(0.0004,0.3240),(0.0005,0.3180),
]
magenta_cloud = [
    (0.0024,0.3659),(0.0015,0.3138),(0.0022,0.3136),(0.0024,0.3164),(0.0003,0.3092),(0.0009,0.3092),
    (0.0016,0.3066),(0.0006,0.3040),(0.0012,0.3010),(0.0023,0.3000),(0.0019,0.2980),(0.0008,0.2960),
    (0.0028,0.2950),(0.0014,0.2930),(0.0005,0.2900),(0.0021,0.2900),(0.0031,0.2880),(0.0010,0.2870),
    (0.0017,0.2850),(0.0026,0.2840),(0.0006,0.2820),(0.0034,0.2810),(0.0013,0.2800),(0.0022,0.2790),
    (0.0029,0.2770),(0.0008,0.2760),(0.0018,0.2740),(0.0037,0.2730),(0.0025,0.2710),(0.0005,0.2700),
    (0.0012,0.2690),(0.0032,0.2680),(0.0040,0.2660),(0.0020,0.2650),(0.0009,0.2630),(0.0027,0.2620),
    (0.0035,0.2600),(0.0015,0.2590),(0.0043,0.2580),(0.0006,0.2560),(0.0023,0.2550),(0.0030,0.2530),
    (0.0012,0.2510),(0.0038,0.2500),(0.0018,0.2480),(0.0045,0.2470),(0.0008,0.2450),(0.0026,0.2440),
    (0.0033,0.2410),(0.0014,0.2400),(0.0041,0.2380),(0.0020,0.2370),(0.0005,0.2350),(0.0029,0.2340),
    (0.0036,0.2310),(0.0011,0.2300),(0.0048,0.2290),(0.0024,0.2280),(0.0017,0.2250),(0.0031,0.2240),
    (0.0008,0.2230),(0.0042,0.2210),(0.0052,0.2200),(0.0027,0.2190),(0.0036,0.2170),(0.0045,0.2150),
    (0.0055,0.2130),(0.0040,0.2100),(0.0050,0.2080),(0.0060,0.2060),(0.0046,0.2018),(0.0050,0.1998),
    (0.0056,0.1977),(0.0048,0.1957),(0.0058,0.1957),(0.0064,0.1941),(0.0046,0.1911),(0.0058,0.1895),
    (0.0066,0.1926),(0.0076,0.1875),(0.0061,0.1865),(0.0069,0.1865),(0.0058,0.1880),(0.0064,0.1845),
    (0.0070,0.2010),(0.0062,0.2040),(0.0054,0.2100),(0.0068,0.2120),(0.0030,0.3050),(0.0033,0.2980),
    (0.0040,0.2900),(0.0044,0.2800),(0.0047,0.2700),(0.0050,0.2620),(0.0054,0.2540),(0.0057,0.2450),
    (0.0060,0.2380),(0.0063,0.2300),(0.0066,0.2230),(0.0072,0.2180),
    (0.0004,0.3130),(0.0010,0.3120),(0.0018,0.3100),(0.0007,0.3070),(0.0013,0.3050),(0.0020,0.3030),
    (0.0004,0.3000),(0.0010,0.2990),(0.0016,0.2970),(0.0025,0.2970),(0.0006,0.2930),(0.0012,0.2910),
    (0.0018,0.2890),(0.0027,0.2900),(0.0004,0.2860),(0.0009,0.2840),(0.0015,0.2820),(0.0021,0.2830),
    (0.0030,0.2820),(0.0007,0.2790),(0.0016,0.2770),(0.0024,0.2760),(0.0004,0.2730),(0.0011,0.2720),
    (0.0020,0.2710),(0.0028,0.2700),(0.0007,0.2670),(0.0015,0.2660),(0.0024,0.2640),(0.0004,0.2610),
    (0.0012,0.2600),(0.0019,0.2580),(0.0029,0.2570),(0.0008,0.2530),(0.0016,0.2520),(0.0025,0.2500),
    (0.0004,0.2470),(0.0011,0.2460),(0.0021,0.2450),(0.0006,0.2410),(0.0016,0.2400),(0.0026,0.2390),
    (0.0009,0.2340),(0.0020,0.2330),(0.0033,0.2280),(0.0014,0.2270),(0.0026,0.2250),(0.0038,0.2230),
    (0.0022,0.2200),(0.0034,0.2200),(0.0046,0.2180),(0.0030,0.2150),(0.0042,0.2130),(0.0058,0.2150),
    (0.0036,0.2110),(0.0048,0.2100),(0.0062,0.2100),(0.0044,0.2060),(0.0056,0.2040),(0.0068,0.2070),
    (0.0052,0.2010),(0.0062,0.2000),(0.0074,0.2030),(0.0054,0.1940),(0.0060,0.1920),(0.0070,0.1950),
    (0.0066,0.1900),(0.0072,0.1890),(0.0052,0.1880),(0.0062,0.1840),(0.0056,0.1860),
]
magenta_branch = [
    (0.0089,0.2719),(0.0088,0.2673),(0.0087,0.2627),(0.0088,0.2600),(0.0085,0.2550),(0.0087,0.2535),
    (0.0087,0.2519),(0.0078,0.2499),(0.0081,0.2437),(0.0087,0.2437),(0.0079,0.2407),(0.0085,0.2376),
    (0.0079,0.2356),(0.0073,0.2335),(0.0083,0.2340),(0.0075,0.2315),(0.0080,0.2294),(0.0071,0.2280),
    (0.0078,0.2270),(0.0075,0.2243),(0.0070,0.2230),(0.0082,0.2250),(0.0086,0.2480),(0.0084,0.2580),
    (0.0088,0.2650),(0.0082,0.2400),(0.0077,0.2200),(0.0068,0.2250),
]

# ---- run 6006 (D03), green ----
green_origin = [
    (0.0001,0.3020),(0.0008,0.3040),(0.0012,0.3000),(0.0016,0.2960),(0.0010,0.2930),(0.0020,0.2920),
    (0.0014,0.2890),(0.0025,0.2880),(0.0008,0.2860),(0.0018,0.2850),(0.0030,0.2840),(0.0012,0.2820),
    (0.0022,0.2810),(0.0027,0.2790),(0.0016,0.2780),(0.0034,0.2770),(0.0009,0.2760),(0.0020,0.2750),
    (0.0030,0.2730),(0.0013,0.2720),(0.0025,0.2710),(0.0037,0.2700),(0.0017,0.2690),(0.0032,0.2670),
    (0.0010,0.2660),(0.0022,0.2650),(0.0040,0.2640),(0.0027,0.2630),(0.0015,0.2620),(0.0035,0.2610),
    (0.0044,0.2600),(0.0020,0.2590),(0.0030,0.2580),(0.0012,0.2570),(0.0039,0.2560),(0.0025,0.2550),
    (0.0047,0.2540),(0.0017,0.2530),(0.0033,0.2520),(0.0042,0.2510),(0.0022,0.2500),(0.0050,0.2490),
    (0.0014,0.2480),(0.0029,0.2470),(0.0037,0.2460),(0.0045,0.2450),(0.0019,0.2440),(0.0054,0.2430),
    (0.0025,0.2420),(0.0033,0.2410),(0.0041,0.2400),(0.0016,0.2390),(0.0048,0.2380),(0.0058,0.2370),
    (0.0022,0.2360),(0.0030,0.2350),(0.0038,0.2340),(0.0062,0.2340),(0.0045,0.2330),(0.0013,0.2320),
    (0.0053,0.2310),(0.0027,0.2300),(0.0035,0.2290),(0.0066,0.2290),(0.0019,0.2280),(0.0043,0.2270),
    (0.0058,0.2260),(0.0070,0.2260),(0.0024,0.2250),(0.0032,0.2240),(0.0050,0.2230),(0.0075,0.2230),
    (0.0016,0.2220),(0.0040,0.2210),(0.0062,0.2200),(0.0080,0.2200),(0.0028,0.2190),(0.0047,0.2180),
    (0.0055,0.2170),(0.0085,0.2170),(0.0021,0.2160),(0.0036,0.2150),(0.0068,0.2150),(0.0090,0.2140),
    (0.0044,0.2130),(0.0052,0.2110),(0.0076,0.2110),(0.0096,0.2110),(0.0030,0.2100),(0.0060,0.2090),
    (0.0083,0.2080),(0.0100,0.2080),(0.0040,0.2070),(0.0070,0.2050),(0.0091,0.2040),(0.0105,0.2050),
    (0.0050,0.2030),(0.0080,0.2010),(0.0098,0.2000),(0.0110,0.2020),(0.0065,0.1990),(0.0088,0.1970),
    (0.0060,0.1940),(0.0075,0.1920),(0.0095,0.1930),(0.0107,0.1960),(0.0084,0.1880),(0.0100,0.1850),
    (0.0028,0.2960),(0.0035,0.2900),(0.0040,0.2820),(0.0046,0.2750),(0.0050,0.2680),(0.0055,0.2620),
    (0.0060,0.2560),(0.0065,0.2500),(0.0069,0.2440),(0.0073,0.2390),(0.0078,0.2350),(0.0083,0.2310),
    (0.0088,0.2280),(0.0093,0.2250),(0.0098,0.2230),(0.0103,0.2200),(0.0108,0.2160),(0.0020,0.2230),
    (0.0012,0.2200),(0.0025,0.2130),(0.0015,0.2100),(0.0035,0.2050),(0.0045,0.2000),
    (0.0011,0.2950),(0.0019,0.2940),(0.0006,0.2910),(0.0023,0.2860),(0.0033,0.2850),(0.0011,0.2800),
    (0.0025,0.2770),(0.0037,0.2750),(0.0007,0.2740),(0.0022,0.2700),(0.0042,0.2690),(0.0014,0.2670),
    (0.0028,0.2660),(0.0036,0.2640),(0.0019,0.2610),(0.0046,0.2620),(0.0010,0.2600),(0.0032,0.2590),
    (0.0024,0.2570),(0.0050,0.2570),(0.0016,0.2550),(0.0036,0.2540),(0.0043,0.2530),(0.0028,0.2510),
    (0.0009,0.2510),(0.0054,0.2510),(0.0021,0.2490),(0.0039,0.2480),(0.0032,0.2460),(0.0049,0.2450),
    (0.0015,0.2450),(0.0058,0.2450),(0.0024,0.2430),(0.0043,0.2420),(0.0036,0.2400),(0.0052,0.2400),
    (0.0020,0.2400),(0.0028,0.2380),(0.0062,0.2390),(0.0011,0.2370),(0.0044,0.2360),(0.0034,0.2330),
    (0.0056,0.2340),(0.0025,0.2320),(0.0068,0.2320),(0.0041,0.2300),(0.0049,0.2290),(0.0017,0.2300),
    (0.0061,0.2280),(0.0031,0.2270),(0.0073,0.2270),(0.0054,0.2250),(0.0039,0.2240),(0.0065,0.2230),
    (0.0022,0.2210),(0.0046,0.2200),(0.0071,0.2200),(0.0033,0.2180),(0.0058,0.2180),(0.0079,0.2170),
    (0.0041,0.2160),(0.0064,0.2140),(0.0026,0.2140),(0.0081,0.2130),(0.0049,0.2120),(0.0088,0.2100),
    (0.0070,0.2090),(0.0057,0.2070),(0.0093,0.2060),(0.0077,0.2040),(0.0063,0.2020),(0.0086,0.2010),
    (0.0102,0.2010),(0.0072,0.1980),(0.0094,0.1960),(0.0081,0.1940),(0.0104,0.1920),(0.0067,0.1910),
    (0.0090,0.1900),(0.0078,0.1870),(0.0097,0.1870),(0.0108,0.1880),(0.0070,0.1850),(0.0087,0.1840),
    (0.0093,0.1810),(0.0079,0.1800),(0.0103,0.1820),(0.0086,0.1780),
]
green_band = [
    (0.0100,0.1747),(0.0112,0.1676),(0.0128,0.1660),(0.0130,0.1691),(0.0142,0.1722),(0.0179,0.1671),
    (0.0186,0.1660),(0.0209,0.1630),(0.0209,0.1671),(0.0230,0.1650),(0.0253,0.1650),(0.0277,0.1676),
    (0.0285,0.1676),(0.0317,0.1650),(0.0347,0.1737),(0.0374,0.1727),(0.0362,0.1763),(0.0205,0.1615),
    (0.0114,0.1940),(0.0118,0.1870),(0.0122,0.1800),(0.0127,0.2000),(0.0131,0.1905),(0.0136,0.1835),
    (0.0141,0.1770),(0.0145,0.1960),(0.0150,0.1880),(0.0154,0.1805),(0.0158,0.2010),(0.0163,0.1925),
    (0.0167,0.1850),(0.0171,0.1745),(0.0176,0.1975),(0.0180,0.1895),(0.0185,0.1815),(0.0189,0.1770),
    (0.0194,0.1940),(0.0198,0.1860),(0.0203,0.1790),(0.0207,0.1995),(0.0212,0.1910),(0.0216,0.1830),
    (0.0220,0.1740),(0.0225,0.1960),(0.0229,0.1875),(0.0234,0.1800),(0.0238,0.1985),(0.0243,0.1915),
    (0.0247,0.1840),(0.0251,0.1765),(0.0256,0.1950),(0.0260,0.1870),(0.0265,0.1795),(0.0269,0.1990),
    (0.0274,0.1905),(0.0278,0.1825),(0.0283,0.1750),(0.0287,0.1945),(0.0292,0.1860),(0.0296,0.1780),
    (0.0300,0.1985),(0.0305,0.1895),(0.0309,0.1815),(0.0314,0.1740),(0.0318,0.1935),(0.0323,0.1860),
    (0.0327,0.1790),(0.0331,0.2000),(0.0336,0.1905),(0.0340,0.1830),(0.0345,0.1960),(0.0349,0.1880),
    (0.0354,0.2030),(0.0358,0.1920),(0.0363,0.1850),(0.0367,0.2000),(0.0372,0.1940),(0.0376,0.2060),
    (0.0381,0.1980),(0.0385,0.2100),(0.0152,0.2060),(0.0190,0.2030),(0.0225,0.2060),(0.0262,0.2040),
    (0.0298,0.2070),(0.0333,0.2090),(0.0120,0.2080),
    (0.0109,0.1880),(0.0116,0.1810),(0.0121,0.1960),(0.0127,0.1760),(0.0133,0.1870),(0.0138,0.2020),
    (0.0144,0.1820),(0.0149,0.1930),(0.0156,0.1860),(0.0161,0.1770),(0.0166,0.1960),(0.0172,0.1880),
    (0.0178,0.1810),(0.0183,0.2000),(0.0188,0.1840),(0.0193,0.1710),(0.0200,0.1920),(0.0205,0.1850),
    (0.0210,0.1770),(0.0217,0.1950),(0.0222,0.1880),(0.0227,0.1800),(0.0232,0.1930),(0.0239,0.1860),
    (0.0245,0.1780),(0.0249,0.1990),(0.0255,0.1870),(0.0261,0.1810),(0.0266,0.1930),(0.0272,0.1730),
    (0.0276,0.1860),(0.0282,0.1970),(0.0288,0.1800),(0.0294,0.1910),(0.0299,0.1830),(0.0304,0.1720),
    (0.0310,0.1950),(0.0315,0.1870),(0.0321,0.1800),(0.0326,0.1920),(0.0332,0.1840),(0.0338,0.1960),
    (0.0343,0.1890),(0.0348,0.1810),(0.0353,0.1980),(0.0359,0.1870),(0.0365,0.1940),(0.0370,0.1880),
    (0.0377,0.1980),(0.0382,0.1930),(0.0387,0.2040),
]
green_rise = [
    (0.0528,0.3028),(0.0563,0.2977),(0.0569,0.2869),(0.0577,0.2849),(0.0587,0.2867),(0.0592,0.2826),
    (0.0592,0.2797),(0.0585,0.2759),(0.0584,0.2744),(0.0586,0.2754),(0.0561,0.2780),(0.0562,0.2770),
    (0.0567,0.2749),(0.0553,0.2759),(0.0570,0.2724),(0.0572,0.2698),(0.0576,0.2703),(0.0573,0.2657),
    (0.0581,0.2637),(0.0540,0.2716),(0.0543,0.2673),(0.0536,0.2662),(0.0533,0.2645),(0.0540,0.2688),
    (0.0556,0.2662),(0.0558,0.2652),(0.0563,0.2650),(0.0567,0.2650),(0.0570,0.2685),(0.0553,0.2581),
    (0.0548,0.2566),(0.0543,0.2555),(0.0540,0.2558),(0.0534,0.2560),(0.0529,0.2545),(0.0524,0.2542),
    (0.0518,0.2529),(0.0513,0.2509),(0.0509,0.2519),(0.0517,0.2511),(0.0519,0.2489),(0.0525,0.2483),
    (0.0522,0.2458),(0.0533,0.2458),(0.0536,0.2473),(0.0548,0.2468),(0.0548,0.2463),(0.0581,0.2461),
    (0.0486,0.2560),(0.0487,0.2540),(0.0497,0.2565),(0.0494,0.2545),(0.0500,0.2524),(0.0508,0.2493),
    (0.0509,0.2478),(0.0514,0.2506),(0.0480,0.2453),(0.0485,0.2468),(0.0490,0.2443),(0.0500,0.2432),
    (0.0509,0.2417),(0.0514,0.2412),(0.0480,0.2432),(0.0487,0.2427),(0.0471,0.2378),(0.0464,0.2366),
    (0.0459,0.2310),(0.0468,0.2325),(0.0476,0.2325),(0.0485,0.2320),(0.0492,0.2310),(0.0497,0.2351),
    (0.0503,0.2253),(0.0519,0.2320),(0.0529,0.2361),(0.0536,0.2345),(0.0508,0.2192),(0.0456,0.2284),
    (0.0449,0.2253),(0.0448,0.2202),(0.0442,0.2233),(0.0458,0.2238),(0.0464,0.2243),(0.0469,0.2212),
    (0.0478,0.2192),(0.0462,0.2182),(0.0466,0.2136),(0.0457,0.2090),(0.0450,0.2079),(0.0443,0.2028),
    (0.0434,0.2003),(0.0466,0.2018),(0.0454,0.2069),(0.0429,0.2253),(0.0424,0.2197),(0.0419,0.2187),
    (0.0411,0.2171),(0.0408,0.2136),(0.0402,0.2120),(0.0396,0.2141),(0.0391,0.2090),(0.0388,0.2171),
    (0.0413,0.2079),(0.0405,0.2064),(0.0413,0.2044),(0.0399,0.2028),(0.0391,0.1977),(0.0385,0.1957),
    (0.0408,0.1936),(0.0408,0.1916),(0.0408,0.1895),(0.0420,0.1916),(0.0502,0.2673),(0.0509,0.2611),
    (0.0500,0.2627),(0.0504,0.2519),(0.0510,0.2519),(0.0515,0.2504),(0.0514,0.2417),(0.0487,0.2478),
    (0.0478,0.2458),(0.0482,0.2437),(0.0467,0.2381),(0.0472,0.2386),(0.0469,0.2345),(0.0454,0.2320),
    (0.0487,0.2315),(0.0491,0.2310),(0.0483,0.2284),(0.0497,0.2274),(0.0504,0.2259),(0.0494,0.2253),
    (0.0490,0.2223),(0.0486,0.2192),(0.0477,0.2172),(0.0467,0.2182),(0.0453,0.2243),(0.0441,0.2192),
    (0.0439,0.2161),(0.0434,0.2115),(0.0421,0.2305),(0.0425,0.2192),(0.0405,0.2263),(0.0396,0.2253),
    (0.0394,0.2192),(0.0378,0.2263),(0.0382,0.2192),(0.0375,0.2182),(0.0324,0.2121),
]

labels = ['run 6001 (D12)', 'run 6002 (D09)', 'run 6004 (D06)', 'run 6005 (D05)', 'run 6006 (D03)']
colors = ['#000000', '#ff0000', '#0000ff', '#ff00ff', '#00ee00']
series = [
    black_origin + black_band + black_rise,
    red_origin + red_band + red_rise,
    blue_origin + blue_near + blue_band + blue_rise,
    magenta_line + magenta_cloud + magenta_branch,
    green_origin + green_band + green_rise,
]

fig = plt.figure(figsize=(8.81, 8.17), dpi=100)
# the frame runs past the right edge of the picture, like the cropped original
ax = fig.add_axes([101.7 / 881, 68 / 817, 917 / 881, 736 / 817])

for pts, c in zip(series, colors):
    arr = np.array(pts)
    ax.scatter(arr[:, 0], arr[:, 1], s=16, c=c, linewidths=0)

ax.set_xlim(0, 0.07)
ax.set_ylim(0.158, 0.3855)
ax.xaxis.set_major_locator(MultipleLocator(0.01))
ax.xaxis.set_minor_locator(MultipleLocator(0.002))
ax.yaxis.set_major_locator(MultipleLocator(0.02))
ax.yaxis.set_minor_locator(MultipleLocator(0.005))
fmt = FuncFormatter(lambda v, p: '%g' % round(v, 4))
ax.xaxis.set_major_formatter(fmt)
ax.yaxis.set_major_formatter(fmt)
ax.tick_params(axis='y', which='major', direction='in', length=20, width=1.1, labelsize=19, pad=5)
ax.tick_params(axis='y', which='minor', direction='in', length=9.5, width=1.1)
ax.tick_params(axis='x', which='major', direction='in', length=15, width=1.1, labelsize=19, pad=6)
ax.tick_params(axis='x', which='minor', direction='in', length=7.2, width=1.1)
for sp in ax.spines.values():
    sp.set_linewidth(1.2)

inch = fig.dpi_scale_trans
H = 8.17

# axis titles
fig.text(0.32, H - 2.14, 'BW_180 diamond current [nA]', rotation=90, ha='center', va='center',
         fontsize=19, transform=inch)
fig.text(6.30, H - 8.10, 'I HER x Average pressure', ha='left', va='baseline', fontsize=19,
         transform=inch)

# legend box (drawn by hand to match the original layout)
fig.add_artist(Rectangle((2.255, H - 1.99), 3.08, 1.57, transform=inch, facecolor='black',
                         edgecolor='none', zorder=6))
fig.add_artist(Rectangle((2.235, H - 1.97), 3.08, 1.57, transform=inch, facecolor='white',
                         edgecolor='black', linewidth=1.1, zorder=7))
row_y = [0.55, 0.865, 1.175, 1.48, 1.79]
for lab, c, yy in zip(labels, colors, row_y):
    fig.add_artist(Line2D([2.62], [H - yy], marker='o', markersize=2.4, color=c, linestyle='none',
                          transform=inch, zorder=8))
    fig.text(3.0, H - yy, lab, color=c, fontsize=16.5, va='center_baseline', ha='left',
             transform=inch, zorder=8)

# title box in the top right corner, with soft shadow
for off, a in [(0.09, 0.10), (0.06, 0.15), (0.035, 0.22)]:
    fig.add_artist(FancyBboxPatch((5.55 - off * 0.3, H - 0.60 - off), 4.0, 1.2, transform=inch,
                                  boxstyle='round,pad=0,rounding_size=0.28', facecolor='#808080',
                                  edgecolor='none', alpha=a, zorder=9))
fig.add_artist(FancyBboxPatch((5.55, H - 0.60), 4.0, 1.2, transform=inch,
                              boxstyle='round,pad=0,rounding_size=0.28', facecolor='white',
                              edgecolor='none', zorder=10))
fig.text(5.80, H - 0.32, 'Beam - gas', color='red', fontsize=41, ha='left', va='baseline',
         transform=inch, zorder=11)

fig.savefig('out.png', dpi=100)
